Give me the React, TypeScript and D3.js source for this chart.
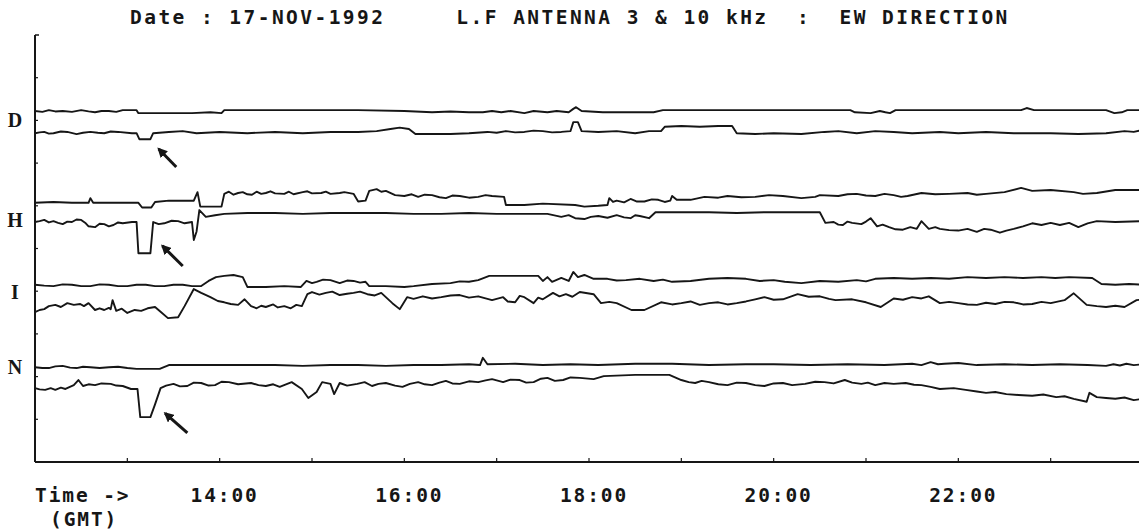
import React from 'react';
import * as d3 from 'd3';

type Pt = [number, number]; // [hour GMT, signal level]

// D channel
const dTop: Pt[] = [
  [12.0, 82.2], [12.08, 82.0], [12.15, 82.4], [12.22, 82.1], [12.3, 82.2], [12.4, 82.0], [12.5, 82.4],
  [12.58, 82.1], [12.65, 81.9], [12.72, 82.2], [12.8, 82.2], [12.88, 82.0], [12.95, 82.4],
  [13.1, 82.4], [13.12, 81.7], [13.4, 81.7], [13.7, 81.7], [13.9, 81.9], [14.02, 81.7], [14.05, 82.4],
  [14.5, 82.4], [15.0, 82.4], [15.5, 82.4], [16.0, 82.2], [16.3, 81.9], [16.5, 82.1], [16.7, 81.9],
  [16.85, 81.9], [16.95, 82.2], [17.05, 81.9], [17.15, 82.2], [17.3, 81.7], [17.4, 82.2], [17.55, 81.9],
  [17.65, 82.2], [17.78, 81.9], [17.83, 82.7], [17.86, 83.1], [17.92, 82.2], [18.15, 81.9], [18.7, 81.9],
  [18.8, 82.4], [19.25, 82.4], [19.8, 82.4], [20.3, 82.4], [20.83, 82.4], [20.88, 81.9], [21.05, 81.7],
  [21.15, 82.2], [21.21, 81.9], [21.26, 81.7], [21.32, 82.4], [22.0, 82.4], [22.68, 82.4], [22.74, 82.9],
  [22.82, 82.4], [23.6, 82.4], [23.69, 81.7], [23.77, 81.9], [23.83, 82.4], [24.0, 82.4],
];
const dBottom: Pt[] = [
  [12.0, 77.0], [12.05, 77.2], [12.1, 77.3], [12.15, 76.9], [12.2, 77.0], [12.28, 77.4], [12.35, 77.3],
  [12.45, 76.8], [12.52, 77.1], [12.6, 77.3], [12.68, 77.1], [12.75, 77.0], [12.82, 77.4], [12.9, 77.3],
  [13.05, 77.0], [13.1, 77.0], [13.13, 75.6], [13.25, 75.6], [13.28, 77.0], [13.45, 77.3], [13.6, 77.5],
  [13.75, 77.0], [14.0, 77.3], [14.3, 77.0], [14.6, 77.3], [14.9, 77.0], [15.2, 77.3], [15.5, 77.3],
  [15.7, 77.5], [15.85, 78.0], [15.95, 78.3], [16.05, 78.0], [16.12, 76.8], [16.3, 76.8], [16.5, 76.8],
  [16.7, 77.0], [16.9, 77.3], [17.0, 77.1], [17.1, 77.5], [17.2, 77.2], [17.3, 77.3], [17.4, 77.6],
  [17.5, 77.5], [17.6, 77.2], [17.7, 77.3], [17.8, 77.5], [17.83, 79.6], [17.88, 79.6], [17.92, 77.5],
  [18.1, 77.3], [18.3, 77.5], [18.5, 77.0], [18.65, 77.5], [18.78, 77.5], [18.82, 78.5], [19.0, 78.7],
  [19.2, 78.5], [19.4, 78.7], [19.55, 78.7], [19.6, 77.0], [19.8, 76.8], [20.0, 77.0], [20.3, 76.8],
  [20.55, 77.3], [20.7, 77.5], [20.9, 77.0], [21.1, 77.5], [21.3, 77.3], [21.5, 77.0], [21.8, 77.3],
  [22.0, 77.0], [22.3, 77.3], [22.6, 77.0], [23.0, 77.0], [23.3, 76.8], [23.6, 77.0], [23.8, 77.5],
  [23.9, 77.3], [24.0, 77.8],
];

// H channel
const hTop: Pt[] = [
  [12.0, 60.7], [12.2, 60.9], [12.4, 60.7], [12.58, 60.7], [12.6, 61.8], [12.63, 60.7], [12.9, 60.7],
  [13.12, 60.7], [13.16, 59.6], [13.26, 59.6], [13.3, 60.9], [13.45, 61.2], [13.6, 61.2], [13.72, 61.2],
  [13.76, 63.2], [13.79, 59.8], [14.02, 59.8], [14.05, 62.8], [14.1, 63.3], [14.15, 62.6], [14.2, 63.0],
  [14.25, 63.2], [14.3, 62.7], [14.35, 62.6], [14.4, 63.3], [14.45, 62.8], [14.5, 63.0], [14.55, 63.4],
  [14.6, 62.9], [14.7, 62.8], [14.75, 63.3], [14.8, 62.7], [14.9, 63.2], [14.95, 63.4], [15.0, 62.9],
  [15.1, 63.0], [15.15, 63.3], [15.2, 62.8], [15.3, 63.0], [15.35, 63.2], [15.45, 62.8], [15.5, 61.0],
  [15.58, 61.2], [15.62, 63.5], [15.7, 63.9], [15.75, 63.3], [15.8, 63.5], [15.9, 62.5], [16.0, 62.3],
  [16.08, 62.7], [16.15, 62.1], [16.22, 62.6], [16.3, 62.5], [16.38, 62.0], [16.45, 61.8], [16.52, 62.4],
  [16.6, 62.3], [16.7, 61.9], [16.8, 62.1], [16.88, 62.5], [16.95, 62.3], [17.08, 62.1], [17.1, 60.2],
  [17.3, 60.2], [17.5, 60.5], [17.85, 60.2], [17.95, 59.8], [18.1, 60.0], [18.2, 60.2], [18.22, 61.8],
  [18.26, 60.9], [18.3, 61.2], [18.38, 60.8], [18.45, 61.6], [18.52, 61.0], [18.6, 61.0], [18.68, 61.5],
  [18.75, 61.4], [18.82, 60.9], [18.88, 61.2], [18.9, 62.3], [18.95, 61.4], [19.1, 61.4], [19.25, 62.1],
  [19.4, 61.9], [19.5, 62.3], [19.65, 62.0], [19.8, 62.1], [19.95, 62.5], [20.1, 62.3], [20.3, 61.8],
  [20.45, 62.1], [20.5, 62.5], [20.7, 62.3], [20.8, 62.7], [20.9, 62.8], [21.0, 62.4], [21.1, 62.3],
  [21.2, 62.8], [21.3, 62.5], [21.38, 62.1], [21.45, 62.3], [21.6, 63.0], [21.75, 62.7], [21.9, 62.8],
  [22.1, 63.0], [22.2, 62.6], [22.3, 62.8], [22.5, 63.2], [22.68, 64.2], [22.8, 63.5], [23.0, 63.7],
  [23.25, 63.2], [23.35, 62.8], [23.5, 63.0], [23.7, 63.7], [24.0, 63.7],
];
const hBottom: Pt[] = [
  [12.0, 56.2], [12.05, 56.4], [12.1, 56.7], [12.15, 56.1], [12.2, 56.4], [12.25, 56.0], [12.3, 55.7],
  [12.35, 56.3], [12.4, 56.2], [12.45, 56.8], [12.5, 56.7], [12.55, 55.9], [12.58, 55.2], [12.65, 55.0],
  [12.7, 55.8], [12.75, 55.7], [12.8, 55.2], [12.85, 55.5], [12.9, 56.1], [12.95, 55.9], [13.05, 56.2],
  [13.1, 56.2], [13.12, 48.9], [13.25, 48.9], [13.28, 56.2], [13.34, 55.7], [13.4, 55.9], [13.48, 56.5],
  [13.55, 56.4], [13.62, 55.9], [13.7, 56.2], [13.72, 52.0], [13.75, 54.0], [13.78, 59.0], [13.85, 57.4],
  [13.95, 57.8], [14.05, 58.1], [14.3, 58.3], [14.6, 58.3], [14.9, 58.1], [15.2, 58.3], [15.5, 58.3],
  [15.8, 58.3], [16.1, 58.1], [16.4, 58.1], [16.7, 58.3], [17.0, 58.1], [17.3, 58.1], [17.55, 58.1],
  [17.7, 57.4], [17.78, 57.8], [17.85, 57.1], [17.95, 56.9], [18.02, 57.4], [18.1, 57.6], [18.2, 57.2],
  [18.3, 57.8], [18.38, 57.3], [18.45, 57.1], [18.5, 57.8], [18.55, 57.6], [18.65, 57.1], [18.72, 58.5],
  [19.0, 58.5], [19.3, 58.5], [19.6, 58.3], [19.9, 58.5], [20.2, 58.5], [20.5, 58.5], [20.56, 56.0],
  [20.65, 56.2], [20.7, 55.6], [20.75, 55.5], [20.8, 56.3], [20.85, 56.0], [20.95, 55.7], [21.0, 56.3],
  [21.05, 57.1], [21.12, 55.2], [21.18, 55.6], [21.25, 55.0], [21.32, 54.5], [21.4, 54.4], [21.48, 55.0],
  [21.55, 54.6], [21.6, 56.4], [21.68, 54.6], [21.75, 55.0], [21.8, 54.6], [21.9, 54.3], [22.0, 54.2],
  [22.1, 54.6], [22.2, 53.9], [22.28, 54.6], [22.35, 54.4], [22.45, 53.7], [22.52, 54.2], [22.6, 54.6],
  [22.7, 55.2], [22.8, 55.9], [22.9, 55.5], [23.0, 56.0], [23.1, 55.5], [23.2, 56.0], [23.3, 55.0],
  [23.4, 55.9], [23.5, 56.4], [23.7, 56.2], [24.0, 56.4],
];

// I channel
const iTop: Pt[] = [
  [12.0, 41.5], [12.1, 41.3], [12.2, 41.2], [12.3, 41.6], [12.4, 41.5], [12.5, 41.2], [12.6, 41.2],
  [12.7, 41.6], [12.8, 41.5], [12.9, 41.2], [13.0, 41.2], [13.1, 41.5], [13.2, 41.5], [13.3, 41.2],
  [13.4, 41.2], [13.5, 41.5], [13.6, 41.5], [13.7, 41.2], [13.8, 41.2], [13.88, 42.4], [13.96, 43.3],
  [14.05, 43.6], [14.15, 43.8], [14.25, 43.3], [14.3, 41.0], [14.5, 41.0], [14.7, 41.2], [14.88, 41.0],
  [14.94, 42.4], [15.0, 41.9], [15.05, 42.2], [15.12, 42.7], [15.2, 42.6], [15.3, 41.9], [15.38, 42.5],
  [15.45, 42.4], [15.52, 42.0], [15.58, 42.2], [15.62, 41.2], [15.8, 41.2], [16.0, 41.0], [16.1, 41.2],
  [16.3, 41.7], [16.5, 41.9], [16.6, 42.3], [16.7, 42.2], [16.8, 42.6], [16.92, 43.6], [17.1, 43.6],
  [17.3, 43.6], [17.45, 43.6], [17.5, 42.4], [17.55, 43.3], [17.6, 42.2], [17.7, 43.1], [17.78, 42.4],
  [17.83, 44.5], [17.88, 43.3], [17.95, 43.8], [18.05, 42.9], [18.2, 42.9], [18.3, 42.5], [18.4, 42.6],
  [18.55, 42.9], [18.7, 42.4], [18.8, 42.7], [18.9, 42.2], [19.1, 42.4], [19.3, 42.9], [19.5, 43.1],
  [19.7, 42.9], [19.85, 42.4], [20.0, 42.6], [20.12, 42.2], [20.3, 41.9], [20.5, 42.4], [20.7, 42.2],
  [20.9, 42.6], [21.0, 42.3], [21.1, 42.9], [21.3, 43.1], [21.5, 42.9], [21.7, 43.1], [21.9, 42.9],
  [22.1, 43.3], [22.3, 43.1], [22.5, 43.3], [22.7, 43.1], [22.9, 43.3], [23.05, 43.1], [23.2, 43.3],
  [23.45, 43.1], [23.55, 41.7], [23.7, 41.5], [23.85, 41.7], [24.0, 41.5],
];
const iBottom: Pt[] = [
  [12.0, 35.1], [12.05, 35.6], [12.1, 35.8], [12.15, 36.5], [12.22, 36.8], [12.28, 36.3], [12.35, 37.2],
  [12.42, 36.8], [12.49, 37.0], [12.53, 36.5], [12.58, 37.2], [12.65, 35.6], [12.7, 36.0], [12.75, 35.6],
  [12.8, 36.1], [12.82, 35.8], [12.84, 37.9], [12.88, 35.4], [12.94, 35.9], [13.0, 34.9], [13.08, 35.6],
  [13.15, 35.4], [13.22, 36.0], [13.3, 36.3], [13.36, 35.2], [13.44, 33.7], [13.55, 33.9], [13.62, 36.5],
  [13.72, 40.5], [13.8, 39.6], [13.9, 38.6], [13.98, 37.7], [14.05, 37.4], [14.12, 37.0], [14.2, 36.8],
  [14.27, 38.1], [14.34, 36.5], [14.4, 36.0], [14.45, 36.6], [14.5, 36.3], [14.58, 36.9], [14.63, 36.2],
  [14.7, 36.5], [14.77, 36.0], [14.83, 36.8], [14.89, 36.5], [14.95, 39.3], [15.0, 39.8], [15.08, 39.2],
  [15.15, 39.6], [15.22, 39.9], [15.3, 39.1], [15.38, 39.4], [15.45, 39.6], [15.52, 39.9], [15.6, 39.3],
  [15.68, 39.0], [15.75, 39.6], [15.87, 37.2], [15.95, 35.8], [16.03, 38.6], [16.1, 38.2], [16.2, 38.8],
  [16.3, 38.3], [16.4, 38.6], [16.5, 39.0], [16.6, 39.1], [16.7, 38.5], [16.8, 38.8], [16.95, 37.9],
  [17.07, 38.6], [17.12, 37.6], [17.2, 37.4], [17.25, 38.9], [17.3, 38.6], [17.4, 37.2], [17.45, 38.5],
  [17.5, 38.1], [17.61, 39.6], [17.68, 38.8], [17.75, 39.3], [17.82, 38.7], [17.9, 39.8], [18.05, 39.3],
  [18.13, 37.2], [18.22, 37.5], [18.3, 37.2], [18.46, 35.6], [18.6, 35.6], [18.78, 37.4], [18.9, 36.9],
  [19.0, 37.2], [19.1, 37.6], [19.2, 36.8], [19.3, 37.2], [19.4, 37.4], [19.5, 36.9], [19.6, 37.2],
  [19.7, 37.6], [19.8, 38.1], [19.9, 38.6], [20.0, 38.0], [20.1, 38.1], [20.26, 39.3], [20.38, 38.7],
  [20.5, 38.8], [20.6, 38.2], [20.67, 37.9], [20.85, 38.1], [21.0, 37.4], [21.16, 36.3], [21.3, 38.3],
  [21.4, 38.0], [21.5, 38.6], [21.6, 38.3], [21.68, 38.8], [21.8, 37.2], [21.9, 37.5], [22.0, 37.2],
  [22.1, 36.9], [22.2, 36.8], [22.3, 37.3], [22.4, 37.0], [22.5, 37.5], [22.6, 37.4], [22.7, 36.9],
  [22.8, 37.0], [22.9, 37.5], [23.0, 37.2], [23.15, 37.9], [23.25, 39.5], [23.39, 36.8], [23.5, 36.5],
  [23.6, 36.3], [23.7, 36.6], [23.8, 36.3], [23.93, 37.9], [24.0, 38.1],
];

// N channel
const nTop: Pt[] = [
  [12.0, 22.2], [12.08, 22.0], [12.15, 22.0], [12.22, 22.4], [12.3, 22.5], [12.38, 22.1], [12.45, 22.0],
  [12.52, 22.3], [12.6, 22.2], [12.7, 22.0], [12.8, 22.2], [12.9, 22.3], [13.0, 22.0], [13.1, 21.8],
  [13.35, 21.8], [13.45, 22.7], [13.7, 22.7], [14.0, 22.7], [14.3, 22.7], [14.6, 22.7], [14.9, 22.5],
  [15.2, 22.7], [15.5, 22.7], [15.8, 22.5], [16.1, 22.7], [16.4, 22.7], [16.7, 22.9], [16.82, 22.7],
  [16.85, 24.4], [16.9, 22.9], [17.2, 23.0], [17.5, 22.7], [17.8, 22.9], [18.1, 22.7], [18.5, 23.0],
  [18.9, 23.0], [19.3, 22.7], [19.7, 22.9], [20.0, 22.9], [20.4, 22.7], [20.8, 22.9], [21.2, 22.7],
  [21.5, 23.0], [21.6, 22.7], [21.7, 23.4], [21.78, 22.9], [21.85, 23.0], [22.0, 23.2], [22.2, 22.7],
  [22.5, 22.9], [22.8, 22.7], [23.1, 22.9], [23.4, 22.7], [23.6, 22.5], [23.68, 22.9], [23.75, 22.6],
  [23.82, 23.0], [23.9, 22.7], [24.0, 22.9],
];
const nBottom: Pt[] = [
  [12.0, 17.3], [12.05, 17.0], [12.11, 16.9], [12.17, 17.3], [12.22, 16.9], [12.28, 17.4], [12.33, 17.1],
  [12.42, 18.0], [12.47, 19.2], [12.52, 17.8], [12.58, 18.2], [12.65, 18.0], [12.72, 18.4], [12.82, 18.3],
  [12.88, 17.9], [12.95, 17.8], [13.04, 17.1], [13.11, 17.1], [13.14, 10.5], [13.25, 10.5], [13.3, 13.5],
  [13.36, 17.3], [13.42, 17.9], [13.5, 18.3], [13.57, 17.7], [13.65, 17.8], [13.72, 18.6], [13.8, 18.5],
  [13.88, 17.9], [13.95, 18.0], [14.02, 18.8], [14.1, 18.7], [14.2, 18.2], [14.34, 18.5], [14.42, 18.0],
  [14.5, 17.8], [14.58, 18.2], [14.65, 17.6], [14.78, 18.7], [14.89, 17.1], [14.96, 15.0], [15.05, 16.4],
  [15.11, 18.7], [15.2, 18.3], [15.24, 15.9], [15.3, 18.5], [15.38, 17.9], [15.49, 18.3], [15.57, 18.7],
  [15.65, 17.8], [15.72, 18.3], [15.8, 18.5], [15.9, 17.9], [15.98, 17.6], [16.06, 18.3], [16.15, 18.7],
  [16.22, 18.2], [16.3, 18.0], [16.38, 18.6], [16.45, 19.0], [16.52, 18.4], [16.6, 18.3], [16.7, 18.9],
  [16.8, 18.7], [16.88, 19.1], [16.95, 19.4], [17.07, 18.7], [17.15, 19.3], [17.25, 19.2], [17.32, 18.6],
  [17.4, 18.7], [17.48, 19.5], [17.55, 19.7], [17.63, 19.0], [17.72, 19.2], [17.8, 19.8], [17.9, 19.7],
  [18.05, 19.4], [18.16, 20.1], [18.5, 20.4], [18.87, 20.4], [19.0, 19.2], [19.08, 18.7], [19.15, 18.5],
  [19.22, 19.0], [19.3, 18.7], [19.4, 18.2], [19.5, 18.0], [19.6, 18.6], [19.7, 18.5], [19.8, 18.0],
  [19.9, 17.8], [20.0, 18.4], [20.1, 18.5], [20.2, 18.0], [20.34, 18.3], [20.45, 18.8], [20.55, 18.7],
  [20.65, 18.4], [20.77, 19.2], [20.85, 18.6], [20.95, 18.3], [21.02, 18.6], [21.1, 18.0], [21.2, 18.5],
  [21.3, 18.3], [21.43, 18.5], [21.52, 18.1], [21.6, 18.0], [21.7, 17.6], [21.8, 17.1], [21.95, 17.3],
  [22.08, 16.9], [22.2, 16.5], [22.3, 16.2], [22.4, 16.4], [22.52, 15.9], [22.65, 15.7], [22.8, 15.5],
  [22.92, 15.8], [23.06, 15.2], [23.15, 15.4], [23.25, 14.8], [23.39, 14.1], [23.42, 16.2], [23.5, 15.2],
  [23.6, 15.0], [23.7, 14.8], [23.8, 15.1], [23.9, 14.5], [24.0, 14.8],
];

const traces: Pt[][] = [dTop, dBottom, hTop, hBottom, iTop, iBottom, nTop, nBottom];

const channelNames = ['D', 'H', 'I', 'N'];
const channelLabelLevels = [80.0, 56.7, 39.8, 22.2];

const tickHours = [14, 16, 18, 20, 22];
const tickLabels = ['14:00', '16:00', '18:00', '20:00', '22:00'];

// arrows marking the event: tail -> head
const arrows: { from: Pt; to: Pt }[] = [
  { from: [13.53, 69.1], to: [13.34, 73.3] },
  { from: [13.6, 45.9], to: [13.38, 50.6] },
  { from: [13.65, 6.8], to: [13.41, 11.4] },
];

const title = 'Date : 17-NOV-1992     L.F ANTENNA 3 & 10 kHz  :  EW DIRECTION';

export default function App() {
  const width = 1139;
  const height = 532;

  const x = d3.scaleLinear().domain([12, 24]).range([35, 1143]);
  const y = d3.scaleLinear().domain([0, 100]).range([462, 35]);

  const line = d3
    .line<Pt>()
    .x(d => x(d[0]))
    .y(d => y(d[1]));

  const mono = '"DejaVu Sans Mono", "Liberation Mono", monospace';
  const ink = '#161616';

  return (
    <svg
      width={width}
      height={height}
      style={{ position: 'absolute', left: 0, top: 0, background: '#fff' }}
    >
      <defs>
        <marker
          id="head"
          viewBox="0 0 10 10"
          refX="8"
          refY="5"
          markerWidth="10"
          markerHeight="10"
          markerUnits="userSpaceOnUse"
          orient="auto"
        >
          <path d="M0,0 L10,5 L0,10 z" fill={ink} />
        </marker>
      </defs>

      {/* title */}
      <text
        x={130}
        y={24}
        fontFamily={mono}
        fontWeight="bold"
        fontSize={19.5}
        letterSpacing={2.45}
        fill={ink}
        style={{ whiteSpace: 'pre' }}
      >
        {title}
      </text>

      {/* axes */}
      <line x1={35} x2={35} y1={y(100)} y2={y(0)} stroke={ink} strokeWidth={2} />
      <line x1={35} x2={39} y1={y(100)} y2={y(100)} stroke={ink} strokeWidth={1.5} />
      <line x1={35} x2={width} y1={y(0)} y2={y(0)} stroke={ink} strokeWidth={2} />
      {y.ticks(10).filter(t => t > 0 && t < 100).map(t => (
        <line key={t} x1={35} x2={38} y1={y(t)} y2={y(t)} stroke={ink} strokeWidth={1.2} />
      ))}
      {x.ticks(12).filter(t => t > 12).map(t => (
        <line key={t} x1={x(t)} x2={x(t)} y1={y(0)} y2={y(0) - 4} stroke={ink} strokeWidth={1.2} />
      ))}

      {/* channel labels */}
      {channelNames.map((c, i) => (
        <text
          key={c}
          x={15}
          y={y(channelLabelLevels[i])}
          dy="0.35em"
          textAnchor="middle"
          fontFamily='"Liberation Serif", "DejaVu Serif", serif'
          fontWeight="bold"
          fontSize={20}
          fill={ink}
        >
          {c}
        </text>
      ))}

      {/* traces */}
      {traces.map((t, i) => (
        <path
          key={i}
          d={line(t) ?? ''}
          fill="none"
          stroke={ink}
          strokeWidth={1.9}
          strokeLinejoin="round"
        />
      ))}

      {/* arrows */}
      {arrows.map((a, i) => (
        <line
          key={i}
          x1={x(a.from[0])}
          y1={y(a.from[1])}
          x2={x(a.to[0])}
          y2={y(a.to[1])}
          stroke={ink}
          strokeWidth={3}
          markerEnd="url(#head)"
        />
      ))}

      {/* x labels */}
      <text x={35} y={502} fontFamily={mono} fontWeight="bold" fontSize={19.5} letterSpacing={1.9} fill={ink} style={{ whiteSpace: 'pre' }}>
        {'Time ->'}
      </text>
      <text x={50} y={526} fontFamily={mono} fontWeight="bold" fontSize={19.5} letterSpacing={1.9} fill={ink}>
        (GMT)
      </text>
      {tickHours.map((h, i) => (
        <text
          key={h}
          x={x(h) + 5}
          y={502}
          textAnchor="middle"
          fontFamily={mono}
          fontWeight="bold"
          fontSize={19.5}
          letterSpacing={1.9}
          fill={ink}
        >
          {tickLabels[i]}
        </text>
      ))}
    </svg>
  );
}
